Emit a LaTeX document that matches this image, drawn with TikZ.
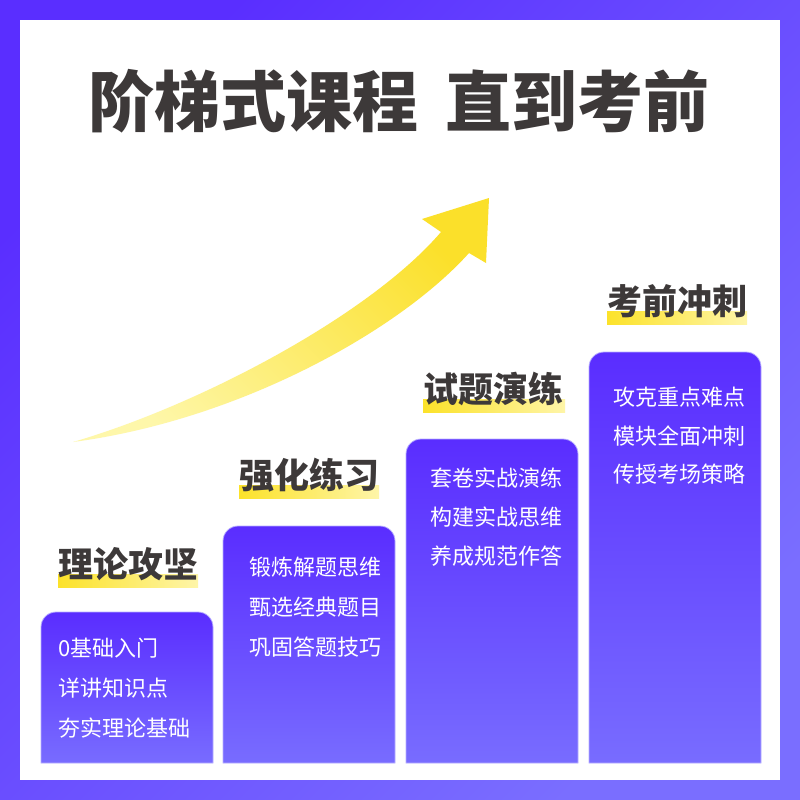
\documentclass[tikz,border=0pt]{standalone}
\usepackage{fontspec}
\setmainfont{Noto Sans CJK SC}
\newfontfamily\cjk{Noto Sans CJK SC}
\definecolor{frameA}{HTML}{5A2EFF}
\definecolor{frameB}{HTML}{7A6EFF}
\definecolor{boxA}{HTML}{5A2DFF}
\definecolor{boxB}{HTML}{786CFF}
\definecolor{boxEdge}{HTML}{B7AEFF}
\definecolor{arrowA}{HTML}{FBE02A}
\definecolor{arrowB}{HTML}{FEF7AA}
\definecolor{hlA}{HTML}{FCE22A}
\definecolor{hlB}{HTML}{FEF5A8}
\definecolor{headC}{HTML}{3D3939}
\tikzset{
  boxshade/.style={top color=boxA, bottom color=boxB, draw=boxEdge, line width=0.8pt},
  bodytxt/.style={font=\cjk\fontsize{22}{26}\selectfont, text=white, inner sep=0pt, anchor=west},
  headtxt/.style={font=\cjk\bfseries\fontsize{35}{40}\selectfont, text=headC, inner sep=0pt, anchor=west},
  hlbar/.style={left color=hlA, right color=hlB},
}
\begin{document}
\begin{tikzpicture}[x=1pt,y=-1pt]
\useasboundingbox (0,0) rectangle (800,800);
% frame
\shade[top color=frameA, bottom color=frameB, shading angle=45] (0,0) rectangle (800,800);
\fill[white] (20,20) rectangle (780,780);
% title
\node[font=\cjk\bfseries\fontsize{66}{70}\selectfont, text=headC, inner sep=0pt] (title) at (399,101.5) {阶梯式课程\hspace{0.4em}直到考前};
% arrow
\shade[top color=arrowA, bottom color=arrowB, shading angle=-45]
  (73,442) .. controls (200,405) and (370,315) .. (441,232)
  -- (422,219) -- (489,198) -- (486,263) -- (469,253)
  .. controls (400,330) and (240,420) .. (73,442) -- cycle;
% boxes
\shade[boxshade] (41,763) [rounded corners=15pt] -- (41,612) -- (213,612) [sharp corners] -- (213,763) -- cycle;
\shade[boxshade] (223,763) [rounded corners=15pt] -- (223,526) -- (395,526) [sharp corners] -- (395,763) -- cycle;
\shade[boxshade] (406,763) [rounded corners=15pt] -- (406,439) -- (578,439) [sharp corners] -- (578,763) -- cycle;
\shade[boxshade] (589,763) [rounded corners=15pt] -- (589,352) -- (761,352) [sharp corners] -- (761,763) -- cycle;
% highlight bars
\shade[hlbar] (58,574) rectangle (198,587);
\shade[hlbar] (239,485) rectangle (379,498);
\shade[hlbar] (423,399) rectangle (565,412);
\shade[hlbar] (607,311) rectangle (747,324);
% headings
\node[headtxt] (h1) at (58,564) {理论攻坚};
\node[headtxt] (h2) at (239,475) {强化练习};
\node[headtxt] (h3) at (423,389) {试题演练};
\node[headtxt] (h4) at (607,301) {考前冲刺};
% box texts
\node[bodytxt] (b1a) at (58,648) {0基础入门};
\node[bodytxt] (b1b) at (58,688) {详讲知识点};
\node[bodytxt] (b1c) at (58,728) {夯实理论基础};
\node[bodytxt] (b2a) at (249,567) {锻炼解题思维};
\node[bodytxt] (b2b) at (249,607) {甄选经典题目};
\node[bodytxt] (b2c) at (249,647) {巩固答题技巧};
\node[bodytxt] (b3a) at (430,478) {套卷实战演练};
\node[bodytxt] (b3b) at (430,517) {构建实战思维};
\node[bodytxt] (b3c) at (430,556) {养成规范作答};
\node[bodytxt] (b4a) at (613,397) {攻克重点难点};
\node[bodytxt] (b4b) at (613,436) {模块全面冲刺};
\node[bodytxt] (b4c) at (613,474) {传授考场策略};
\end{tikzpicture}
\end{document}
